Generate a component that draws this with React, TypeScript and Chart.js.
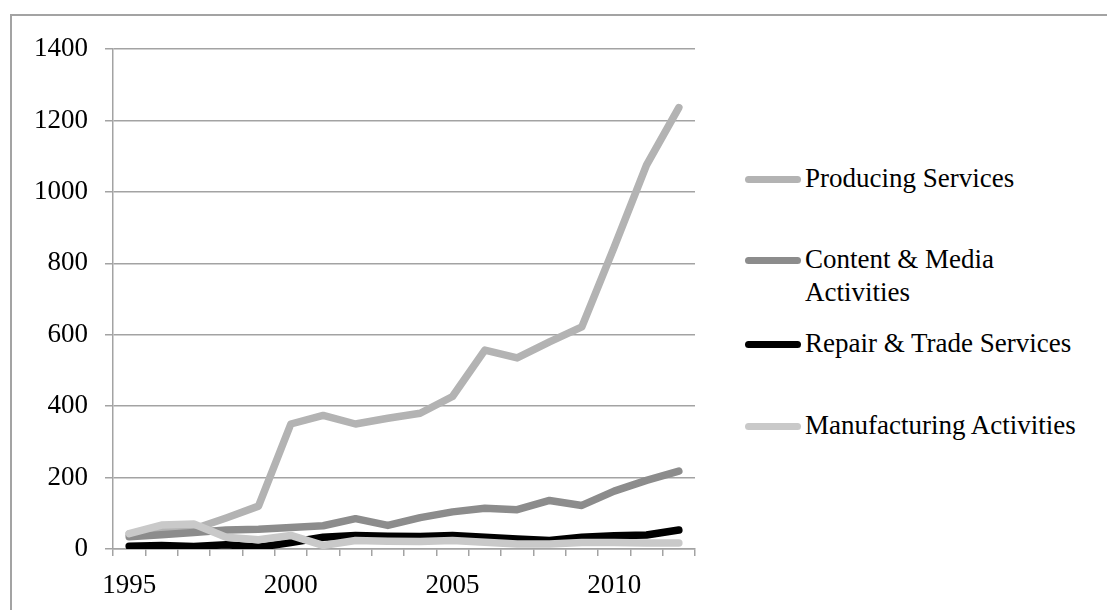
import React, { useEffect, useRef } from "react";
import { Chart, registerables } from "chart.js";

Chart.register(...registerables);

const years = ["1995","1996","1997","1998","1999","2000","2001","2002","2003","2004","2005","2006","2007","2008","2009","2010","2011","2012"];
const producingServices = [42, 48, 56, 87, 120, 350, 374, 350, 366, 380, 427, 557, 535, 580, 622, 845, 1075, 1236];
const contentMedia = [34, 40, 46, 53, 55, 60, 65, 85, 66, 88, 104, 114, 110, 136, 122, 162, 192, 218];
const repairTrade = [8, 10, 7, 12, 5, 18, 33, 38, 36, 35, 38, 33, 28, 24, 33, 37, 39, 53];
const manufacturing = [43, 67, 70, 33, 26, 38, 10, 24, 22, 21, 24, 19, 14, 14, 18, 18, 17, 17];
const yTicks = [0, 200, 400, 600, 800, 1000, 1200, 1400];

const seriesNames = ["Producing Services", "Content & Media Activities", "Repair & Trade Services", "Manufacturing Activities"];
const seriesColors = ["#b3b3b3", "#8c8c8c", "#000000", "#c9c9c9"];

const FONT = "'Liberation Serif', 'DejaVu Serif', serif";
const GRID = "#a3a3a3";

export default function App() {
  const ref = useRef<HTMLCanvasElement | null>(null);

  useEffect(() => {
    if (!ref.current) return;
    const series = [producingServices, contentMedia, repairTrade, manufacturing];
    const chart = new Chart(ref.current, {
      type: "line",
      data: {
        labels: years,
        datasets: series.map((d, i) => ({
          label: seriesNames[i],
          data: d,
          borderColor: seriesColors[i],
          backgroundColor: seriesColors[i],
          borderWidth: 7.5,
          borderCapStyle: "round" as const,
          borderJoinStyle: "round" as const,
          pointRadius: 0,
          tension: 0,
          order: 4 - i,
        })),
      },
      options: {
        animation: false,
        responsive: false,
        devicePixelRatio: 1,
        layout: { padding: { top: 49, right: 25, bottom: 0, left: 0 } },
        plugins: { legend: { display: false }, tooltip: { enabled: false } },
        scales: {
          x: {
            offset: true,
            grid: {
              offset: true,
              drawOnChartArea: false,
              drawTicks: true,
              tickLength: 7,
              color: GRID,
              lineWidth: 1.5,
            },
            border: { display: true, color: GRID, width: 1.5 },
            ticks: {
              autoSkip: false,
              maxRotation: 0,
              padding: 14,
              color: "#000",
              font: { family: FONT, size: 27 },
              callback: (_v: any, idx: number) => ((Number(years[idx]) - 1995) % 5 === 0 ? years[idx] : " "),
            },
            afterFit: (s: any) => { s.height = 61; },
          },
          y: {
            min: 0,
            max: 1400,
            afterBuildTicks: (s: any) => { s.ticks = yTicks.map((v) => ({ value: v })); },
            grid: { color: GRID, lineWidth: 1.5, tickLength: 8, drawTicks: true },
            border: { display: true, color: GRID, width: 1.5 },
            ticks: {
              padding: 17,
              color: "#000",
              font: { family: FONT, size: 27 },
              callback: (v: any) => String(v),
            },
            afterFit: (s: any) => { s.width = 113; },
          },
        },
      },
    });
    return () => chart.destroy();
  }, []);

  const legendRows = [
    { top: 179, lines: ["Producing Services"] },
    { top: 260, lines: ["Content & Media", "Activities"] },
    { top: 344, lines: ["Repair & Trade Services"] },
    { top: 426, lines: ["Manufacturing Activities"] },
  ];

  return (
    <div style={{ position: "fixed", left: 0, top: 0, width: 1107, height: 610, overflow: "hidden", background: "#fff", fontFamily: FONT }}>
      <div style={{ position: "absolute", left: 10, top: 14, width: 1200, height: 800, borderLeft: "2px solid " + GRID, borderTop: "2px solid " + GRID }} />
      <canvas ref={ref} width={720} height={610} style={{ position: "absolute", left: 0, top: 0, width: 720, height: 610 }} />
      {legendRows.map((r, i) => (
        <React.Fragment key={i}>
          <div style={{ position: "absolute", left: 745, top: r.top - 3.5, width: 56, height: 7, borderRadius: 4, background: seriesColors[i] }} />
          <div style={{ position: "absolute", left: 805, top: r.top - 17, fontSize: 27, lineHeight: "33px", color: "#000", whiteSpace: "nowrap" }}>
            {r.lines.map((t, j) => <div key={j}>{t}</div>)}
          </div>
        </React.Fragment>
      ))}
    </div>
  );
}
